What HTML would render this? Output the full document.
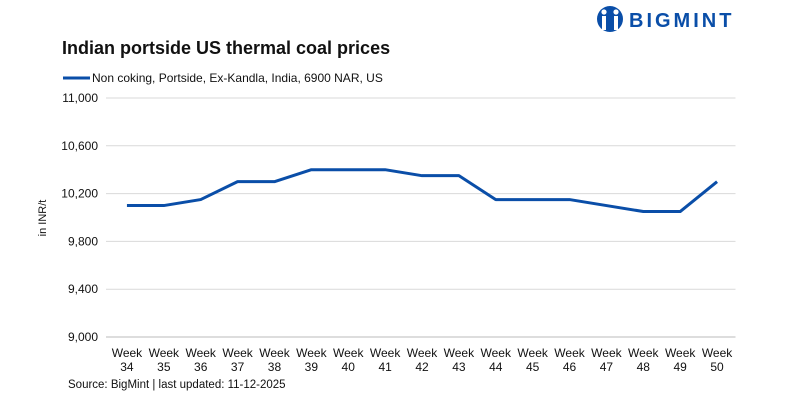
<!DOCTYPE html>
<html><head><meta charset="utf-8"><style>
body{margin:0;background:#fff;width:800px;height:400px;overflow:hidden;font-family:"Liberation Sans",sans-serif}
</style></head><body>
<svg id="c" width="800" height="400" xmlns="http://www.w3.org/2000/svg">
<g>
<circle cx="610" cy="19" r="13" fill="#0a4ea8"/>
<circle cx="604" cy="12" r="2.6" fill="#fff"/><circle cx="616" cy="12" r="2.6" fill="#fff"/>
<rect x="602" y="16" width="4" height="14" fill="#fff"/><rect x="614" y="16" width="4" height="14" fill="#fff"/>
<text x="629" y="27" font-size="20" font-weight="bold" fill="#0a4ea8" letter-spacing="3">BIGMINT</text>
</g>
<text x="62" y="54" font-size="18" font-weight="bold" fill="#111">Indian portside US thermal coal prices</text>
<g>
<line x1="63" y1="78" x2="90" y2="78" stroke="#0a4ea8" stroke-width="3"/>
<text x="92" y="82" font-size="12" fill="#111">Non coking, Portside, Ex-Kandla, India, 6900 NAR, US</text>
</g>
<text transform="translate(46,218) rotate(-90)" font-size="11" fill="#111" text-anchor="middle">in INR/t</text>
<g id="grid"></g><g id="xl"></g>
<text x="68" y="388" font-size="11.5" fill="#111">Source: BigMint | last updated: 11-12-2025</text>
</svg>
<script>
const categories=["34","35","36","37","38","39","40","41","42","43","44","45","46","47","48","49","50"];
const values=[10100,10100,10150,10300,10300,10400,10400,10400,10350,10350,10150,10150,10150,10100,10050,10050,10300];
const yTicks=[9000,9400,9800,10200,10600,11000];
const NS="http://www.w3.org/2000/svg";
const svg=document.getElementById('c');
const L=108.5,R=735.5,T=98,B=337;
const y=v=>B-(v-9000)/2000*(B-T);
const bw=(R-L)/categories.length;
const x=i=>L+bw*(i+0.5);
function mk(t,a,p){const e=document.createElementNS(NS,t);for(const k in a)e.setAttribute(k,a[k]);(p||svg).appendChild(e);return e;}
const g=document.getElementById('grid');
yTicks.forEach(v=>{
 const l=mk('line',{x1:106,x2:R,y1:y(v),y2:y(v),stroke:v===9000?'#bbb':'#d9d9d9','stroke-width':1},g);
 
 
 const t=mk('text',{x:98,y:y(v)+4,'font-size':12,'text-anchor':'end',fill:'#111'},g);
 t.textContent=v.toLocaleString('en-US');
 
 
});
const xl=document.getElementById('xl');
categories.forEach((c,i)=>{
 const t=mk('text',{x:x(i),y:357,'font-size':12,'text-anchor':'middle',fill:'#111'},xl);
 t.innerHTML='<tspan x="'+x(i)+'">Week</tspan><tspan x="'+x(i)+'" dy="14">'+c+'</tspan>';
 
 
});
const p=mk('polyline',{points:values.map((v,i)=>x(i)+','+y(v)).join(' '),fill:'none',stroke:'#0a4ea8','stroke-width':3,'stroke-linejoin':'round'});


</script>
</body></html>
